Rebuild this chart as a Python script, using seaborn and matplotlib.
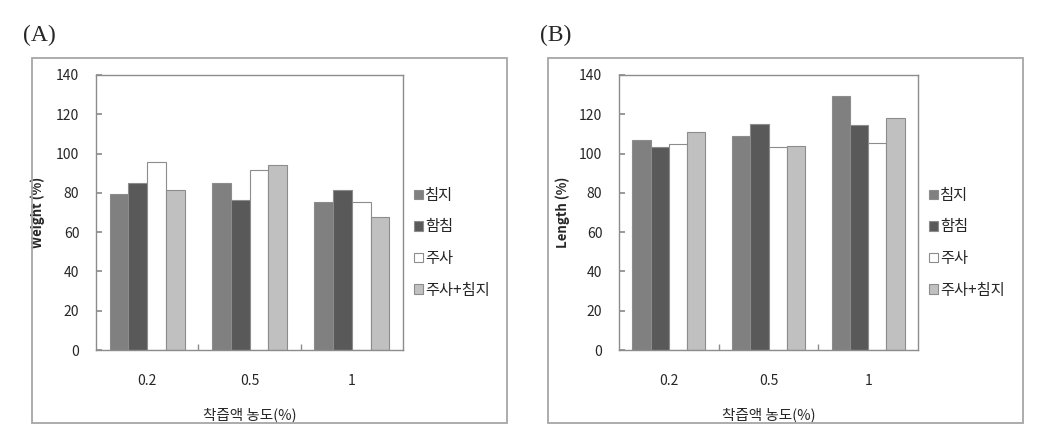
import pandas as pd
import seaborn as sns
import matplotlib
matplotlib.use("Agg")
import matplotlib.pyplot as plt
from matplotlib.patches import Rectangle
from matplotlib.ticker import FixedLocator

# datos
concentraciones = ["0.2", "0.5", "1"]
tratamientos = ["침지", "함침", "주사", "주사+침지"]

weight_침지 = [79.6, 84.9, 75.2]
weight_함침 = [84.9, 76.4, 81.6]
weight_주사 = [95.6, 91.8, 75.5]
weight_주사침지 = [81.3, 94.4, 67.9]

length_침지 = [106.8, 108.8, 129.5]
length_함침 = [103.5, 115.2, 114.4]
length_주사 = [104.7, 103.2, 105.2]
length_주사침지 = [111.2, 104.0, 118.3]

colores = ["#808080", "#595959", "#ffffff", "#c0c0c0"]
gris = "#8c8c8c"


def armar_df(series):
    filas = []
    for trat, vals in zip(tratamientos, series):
        for c, v in zip(concentraciones, vals):
            filas.append({"conc": c, "trat": trat, "valor": v})
    return pd.DataFrame(filas)


df_w = armar_df([weight_침지, weight_함침, weight_주사, weight_주사침지])
df_l = armar_df([length_침지, length_함침, length_주사, length_주사침지])

sns.set_theme(style="white")
plt.rcParams["font.family"] = ["Noto Sans CJK KR", "DejaVu Sans"]

fig = plt.figure(figsize=(10.5, 4.3), dpi=100)

# cajas exteriores
for x0 in [32, 548]:
    fig.add_artist(Rectangle((x0 / 1050, 1 - 423 / 430), 475 / 1050, 365 / 430,
                             transform=fig.transFigure, fill=False,
                             edgecolor="#a6a6a6", lw=1.3))

paneles = [
    (df_w, "Weight (%)", "(A)", 96 / 1050, 307 / 1050, 23 / 1050),
    (df_l, "Length (%)", "(B)", 619 / 1050, 299 / 1050, 540 / 1050),
]

for df, ylab, letra, left, width, xletra in paneles:
    ax = fig.add_axes([left, 1 - 350 / 430, width, 275 / 430])
    sns.barplot(data=df, x="conc", y="valor", hue="trat", hue_order=tratamientos,
                order=concentraciones, palette=colores, width=0.73, gap=0,
                edgecolor=gris, linewidth=0.8, errorbar=None, ax=ax, saturation=1)
    ax.set_ylim(0, 140)
    ax.set_xlim(-0.5, 2.5)
    ax.set_yticks(range(0, 141, 20))
    ax.tick_params(axis="y", direction="in", length=4, color=gris, pad=12,
                   labelsize=10, left=True)
    ax.tick_params(axis="x", which="major", length=0, pad=17, labelsize=10)
    ax.xaxis.set_minor_locator(FixedLocator([0.5, 1.5]))
    ax.tick_params(axis="x", which="minor", direction="in", length=4,
                   color=gris, bottom=True)
    for s in ax.spines.values():
        s.set_color(gris)
        s.set_linewidth(1)
    ax.set_ylabel(ylab, fontsize=9.5, fontweight="bold")
    ax.yaxis.set_label_coords(-0.165, 0.5)
    ax.set_xlabel("착즙액 농도(%)", fontsize=10.5)
    ax.xaxis.set_label_coords(0.5, -0.21)
    sns.move_legend(ax, "center left", bbox_to_anchor=(1.01, 0.39), frameon=False,
                    title=None, fontsize=11, handlelength=0.6, handleheight=0.6,
                    handletextpad=0.15, labelspacing=0.95, borderpad=0)
    fig.text(xletra, 1 - 35 / 430, letra, family="Liberation Serif", fontsize=17,
             va="center", ha="left")

plt.savefig("out.png", dpi=100)
